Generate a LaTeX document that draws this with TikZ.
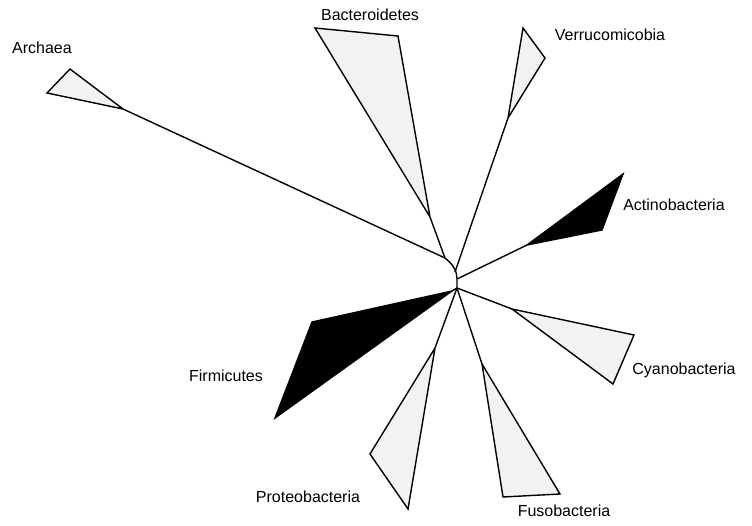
\documentclass[tikz,border=0pt]{standalone}
\usepackage{fontspec}
\setmainfont{Liberation Sans}
\usetikzlibrary{calc}

\begin{document}
\begin{tikzpicture}
  [
   x=1pt, y=-1pt,                 % 像素坐标, y 向下
   branch/.style={draw=black, line width=1.4pt, line join=round},
   clade/.style={draw=black, fill=black!5, line width=1.4pt, line join=miter},
   darkclade/.style={draw=black, fill=black, line width=1.4pt, line join=miter},
   taxon/.style={font=\fontsize{16}{18}\selectfont, inner sep=0pt}
  ]
  \useasboundingbox (0,0) rectangle (752,525);

  % 内部节点
  \coordinate (j1) at (445,258);
  \coordinate (j2) at (455,272);
  \coordinate (j3) at (457,279);
  \coordinate (j4) at (457,288);

  % 各类群三角形的顶点 (尖端)
  \coordinate (arc) at (123,109);
  \coordinate (bac) at (430,217);
  \coordinate (ver) at (508,118);
  \coordinate (act) at (527,245);
  \coordinate (cya) at (512,309);
  \coordinate (fus) at (482,364);
  \coordinate (pro) at (435,348);
  \coordinate (fir) at (452,291);

  % 枝
  \draw[branch] (arc) -- (j1);
  \draw[branch] (bac) -- (j1);
  \draw[branch] (j1) .. controls (454,265) and (457,272) .. (j3) -- (j4);
  \draw[branch] (ver) -- (j2);
  \draw[branch] (act) -- (j3);
  \draw[branch] (cya) -- (j4);
  \draw[branch] (fus) -- (j4);
  \draw[branch] (pro) -- (j4);
  \draw[branch] (fir) -- (j4);

  % 三角形
  \draw[clade] (arc) -- (70,69) -- (47,93) -- cycle;
  \draw[clade] (bac) -- (315,28) -- (398,36) -- cycle;
  \draw[clade] (ver) -- (523,28) -- (545,58) -- cycle;
  \draw[darkclade] (act) -- (623,174) -- (602,230) -- cycle;
  \draw[clade] (cya) -- (634,335) -- (613,384) -- cycle;
  \draw[clade] (fus) -- (503,497) -- (560,494) -- cycle;
  \draw[clade] (pro) -- (370,454) -- (408,509) -- cycle;
  \draw[darkclade] (fir) -- (312,322) -- (275,418) -- cycle;

  % 标签
  \node[taxon] (archaea)  at (42,48)   {Archaea};
  \node[taxon] (bactero)  at (370,15)  {Bacteroidetes};
  \node[taxon] (verruco)  at (610,35)  {Verrucomicobia};
  \node[taxon] (actino)   at (674,205) {Actinobacteria};
  \node[taxon] (cyano)    at (684,370) {Cyanobacteria};
  \node[taxon] (fuso)     at (564,511) {Fusobacteria};
  \node[taxon] (proteo)   at (308,497) {Proteobacteria};
  \node[taxon] (firmi)    at (226,376) {Firmicutes};
\end{tikzpicture}
\end{document}
